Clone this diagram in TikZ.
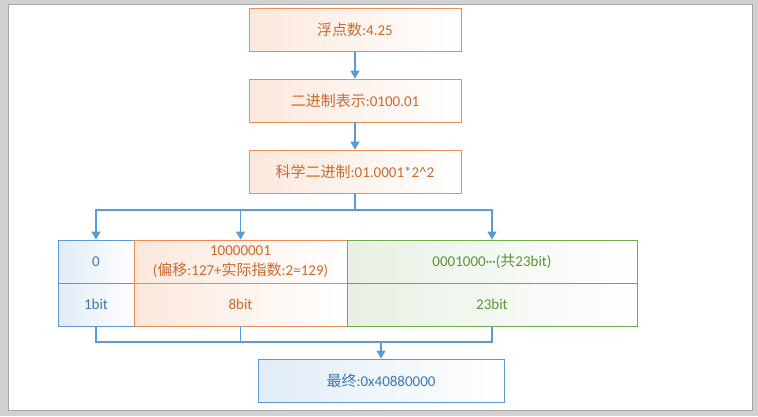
\documentclass[tikz,border=0pt]{standalone}
\usepackage{fontspec}
\setmainfont{Carlito}
\newfontfamily\cjk{Noto Sans CJK SC}
\newcommand\zh[1]{{\cjk #1}}
\usetikzlibrary{arrows.meta}
\definecolor{obord}{RGB}{238,140,85}
\definecolor{otext}{RGB}{205,105,45}
\definecolor{ofill}{RGB}{252,232,220}
\definecolor{bbord}{RGB}{91,155,213}
\definecolor{btext}{RGB}{60,120,185}
\definecolor{bfill}{RGB}{225,236,247}
\definecolor{gbord}{RGB}{112,173,71}
\definecolor{gtext}{RGB}{90,150,55}
\definecolor{gfill}{RGB}{232,240,228}
\definecolor{arr}{RGB}{91,155,213}
\tikzset{
  box/.style={rectangle, inner sep=0pt, align=center, line width=0.8pt,
    font=\fontsize{15}{20}\selectfont},
  obox/.style={box, draw=obord, text=otext, left color=ofill, right color=white},
  bbox/.style={box, draw=bbord, text=btext, left color=bfill, right color=white},
  gbox/.style={box, draw=gbord, text=gtext, left color=gfill, right color=white},
  conn/.style={draw=arr, line width=1.3pt},
  arrow/.style={conn, -{Triangle[length=8pt,width=9pt]}},
}
\begin{document}
\begin{tikzpicture}[x=1pt,y=-1pt]
\useasboundingbox (0,0) rectangle (758,416);
\fill[black!18] (0,0) rectangle (758,416);
\fill[white] (8,4) rectangle (752,410);
\draw[black!35, line width=0.5pt] (8,4) rectangle (752,410);

\node[obox, minimum width=212pt, minimum height=43pt] (b1) at (355,29.5) {\zh{浮点数}:4.25};
\node[obox, minimum width=212pt, minimum height=43pt] (b2) at (355,100.5) {\zh{二进制表示}:0100.01};
\node[obox, minimum width=212pt, minimum height=43pt] (b3) at (355,171.5) {\zh{科学二进制}:01.0001*2\^{}2};

\node[bbox, minimum width=76pt, minimum height=43pt] (s1) at (96,261.5) {0};
\node[bbox, minimum width=76pt, minimum height=43pt] (s2) at (96,304.5) {1bit};
\node[obox, minimum width=213pt, minimum height=43pt] (e1) at (240.5,261.5) {10000001\\(\zh{偏移}:127+\zh{实际指数}:2=129)};
\node[obox, minimum width=213pt, minimum height=43pt] (e2) at (240.5,304.5) {8bit};
\node[gbox, minimum width=290pt, minimum height=43pt] (m1) at (492,261.5) {0001000·\kern-0.6pt·\kern-0.6pt·(\zh{共}23bit)};
\node[gbox, minimum width=290pt, minimum height=43pt] (m2) at (492,304.5) {23bit};

\node[bbox, minimum width=246pt, minimum height=43pt] (res) at (381,380.5) {\zh{最终}:0x40880000};

\draw[arrow] (b1) -- (b2);
\draw[arrow] (b2) -- (b3);

\coordinate (split) at (355,210);
\draw[conn] (b3.south) -- (split);
\draw[arrow] (split) -| (s1.north);
\draw[arrow] (split) -| (e1.north);
\draw[arrow] (split) -| (m1.north);

\coordinate (merge) at (381,342);
\draw[conn] (s2.south) |- (merge);
\draw[conn] (e2.south) |- (merge);
\draw[conn] (m2.south) |- (merge);
\draw[arrow] (merge) -- (res.north);
\end{tikzpicture}
\end{document}
